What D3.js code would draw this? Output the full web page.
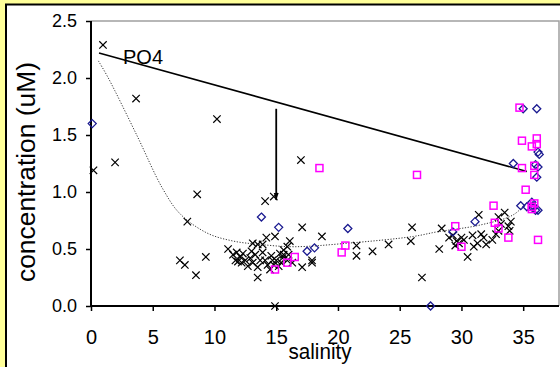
<!DOCTYPE html>
<html>
<head>
<meta charset="utf-8">
<script src="https://cdn.jsdelivr.net/npm/d3@7"></script>
<style>
  body { margin: 0; background: #ffff99; }
  svg { display: block; font-family: "Liberation Sans", Arial, sans-serif; }
</style>
</head>
<body>
<div id="chart"></div>
<script>
// salinity vs PO4 concentration, three sample groups
var crosses = [
  [0.97,2.29],[3.65,1.82],[10.2,1.64],[1.95,1.26],[0.2,1.19],[8.6,0.98],[7.8,0.74],[7.2,0.40],
  [7.6,0.36],[9.3,0.43],[8.5,0.27],[14.9,0.0],[14.1,0.92],[14.8,0.96],[17.0,1.28],
  [11.1,0.50],[11.8,0.47],[11.5,0.45],[12.1,0.43],[11.7,0.40],[11.9,0.39],[12.3,0.46],[12.2,0.38],
  [12.5,0.40],[12.9,0.42],[13.1,0.38],[13.5,0.34],[13.3,0.45],[13.7,0.40],[13.9,0.47],[13.5,0.54],
  [13.9,0.54],[13.5,0.25],[14.3,0.36],[14.5,0.32],[14.1,0.40],[14.7,0.40],[14.8,0.36],[14.9,0.61],
  [15.3,0.46],[15.5,0.42],[15.6,0.49],[15.9,0.52],[16.0,0.45],[15.6,0.45],[15.9,0.40],[16.3,0.38],
  [17.1,0.34],[17.9,0.40],[17.9,0.38],[16.1,0.57],[14.2,0.60],[13.1,0.55],[15.0,0.40],[15.2,0.35],
  [14.6,0.44],[15.4,0.38],[12.7,0.35],[13.0,0.48],
  [17.1,0.69],[18.7,0.61],[21.5,0.53],[21.5,0.44],[22.8,0.48],[24.1,0.54],[25.9,0.57],[26.0,0.69],
  [26.8,0.25],[28.2,0.50],[28.4,0.68],[29.0,0.60],[29.3,0.62],[29.6,0.57],[29.8,0.55],[30.0,0.60],
  [30.2,0.58],[29.5,0.53],[30.5,0.43],[30.9,0.62],[31.4,0.80],[31.0,0.52],[31.3,0.55],[31.6,0.63],
  [31.8,0.60],[32.0,0.54],[32.5,0.58],[32.8,0.63],[33.0,0.78],[33.2,0.72],[33.0,0.66],[33.5,0.82],
  [33.8,0.70],[33.9,0.66],[34.0,0.74]
];
var diamonds = [
  [0.1,1.60],[13.8,0.78],[15.2,0.69],[17.5,0.48],[18.1,0.51],[20.8,0.68],[27.5,0.0],[29.3,0.65],
  [31.1,0.74],[34.2,1.25],[34.8,0.88],[35.0,1.73],[35.3,0.87],[35.7,0.91],[35.8,0.88],[35.8,0.86],
  [36.0,1.24],[36.0,0.84],[36.1,1.73],[36.1,1.13],[36.2,0.84],[36.2,1.35],[36.3,1.33],[36.2,1.22]
];
var squares = [
  [14.9,0.32],[15.9,0.38],[16.5,0.43],[18.5,1.21],[20.3,0.47],[20.6,0.53],[26.4,1.15],[29.5,0.70],
  [30.0,0.52],[32.6,0.88],[32.7,0.73],[33.0,0.68],[33.8,0.60],[34.7,1.74],[34.9,1.45],[34.9,1.21],
  [35.2,1.02],[35.7,1.40],[35.9,1.23],[35.9,1.15],[36.1,1.47],[36.1,1.42],[36.2,0.58],[35.7,0.87],
  [35.7,0.85],[35.9,0.90]
];
var fitCurve = [
  [0.6,2.15],[1.4,2.0],[3.7,1.5],[5.8,1.03],[7.2,0.81],[9.4,0.64],[11.5,0.57],[13.7,0.54],
  [16.4,0.52],[20.7,0.55],[26.1,0.61],[28,0.65],[31.5,0.71],[34.2,0.80],[35.3,0.91]
];
var mixLine = [[0.65,2.22],[35.3,1.18]];
var arrowLine = [[15.0,1.73],[15.0,0.93]];
var xTicks = [0,5,10,15,20,25,30,35];
var yTicks = [0,0.5,1.0,1.5,2.0,2.5];

(function(){
  var width = 560, height = 367;
  var mLeft = 91, mRight = 559, mTop = 21, mBottom = 306;

  var svg = d3.select("#chart").append("svg")
    .attr("width", width)
    .attr("height", height);

  svg.append("rect").attr("width", width).attr("height", height).attr("fill", "#ffff99");
  svg.append("rect")
    .attr("x", 6).attr("y", 4.5).attr("width", width + 10).attr("height", height + 10)
    .attr("fill", "#fff").attr("stroke", "#000").attr("stroke-width", 2);

  var x = d3.scaleLinear().domain([0, 37.9]).range([mLeft, mRight]);
  var y = d3.scaleLinear().domain([0, 2.5]).range([mBottom, mTop]);

  // plot frame (top & right in gray)
  svg.append("path")
    .attr("d", "M" + mLeft + "," + mTop + "H" + mRight + "V" + mBottom)
    .attr("fill", "none").attr("stroke", "#a0a0a0").attr("stroke-width", 1.5);

  var xAxis = svg.append("g")
    .attr("transform", "translate(0," + mBottom + ")")
    .call(d3.axisBottom(x).tickValues(xTicks).tickSize(5).tickSizeOuter(0).tickPadding(19));
  xAxis.selectAll("text").attr("font-size", 20).attr("fill", "#000").attr("font-family", "Liberation Sans, Arial, sans-serif");

  var yAxis = svg.append("g")
    .attr("transform", "translate(" + mLeft + ",0)")
    .call(d3.axisLeft(y).tickValues(yTicks).tickFormat(d3.format(".1f")).tickSize(5).tickSizeOuter(0).tickPadding(9));
  yAxis.selectAll("text").attr("font-size", 18).attr("fill", "#000").attr("font-family", "Liberation Sans, Arial, sans-serif");

  [xAxis, yAxis].forEach(function(a){
    a.select(".domain").attr("stroke", "#000").attr("stroke-width", 2);
    a.selectAll(".tick line").attr("stroke", "#000").attr("stroke-width", 1.5);
  });
  xAxis.select(".domain").attr("d", "M" + mLeft + ",0H" + mRight);
  yAxis.select(".domain").attr("d", "M0," + mTop + "V" + mBottom);

  svg.append("text")
    .attr("x", 320).attr("y", 359)
    .attr("text-anchor", "middle").attr("font-size", 22)
    .attr("textLength", 63).attr("lengthAdjust", "spacingAndGlyphs")
    .text("salinity");

  svg.append("text")
    .attr("transform", "translate(35,172) rotate(-90)")
    .attr("text-anchor", "middle").attr("font-size", 25)
    .attr("textLength", 220).attr("lengthAdjust", "spacingAndGlyphs")
    .text("concentration (uM)");

  var line = d3.line().x(function(d){ return x(d[0]); }).y(function(d){ return y(d[1]); });

  svg.append("path")
    .datum(fitCurve)
    .attr("d", line.curve(d3.curveCatmullRom))
    .attr("fill", "none").attr("stroke", "#333").attr("stroke-width", 1)
    .attr("stroke-dasharray", "1.2,1.6");

  line.curve(d3.curveLinear);
  svg.append("path")
    .datum(mixLine)
    .attr("d", line)
    .attr("fill", "none").attr("stroke", "#000").attr("stroke-width", 1.6);

  svg.append("text")
    .attr("x", 123).attr("y", 64)
    .attr("font-size", 20)
    .text("PO4");

  // arrow
  svg.append("defs").append("marker")
    .attr("id", "head")
    .attr("viewBox", "0 0 10 10").attr("refX", 10).attr("refY", 5)
    .attr("markerWidth", 4).attr("markerHeight", 4).attr("orient", "auto")
    .append("path").attr("d", "M0,1.5L10,5L0,8.5Z").attr("fill", "#000");
  svg.append("path")
    .datum(arrowLine)
    .attr("d", line)
    .attr("stroke", "#000").attr("stroke-width", 1.8)
    .attr("marker-end", "url(#head)");

  var g = svg.append("g");

  g.selectAll(".cross").data(crosses).enter().append("path")
    .attr("class", "cross")
    .attr("transform", function(d){ return "translate(" + x(d[0]) + "," + y(d[1]) + ")"; })
    .attr("d", "M-3.7,-3.7L3.7,3.7M-3.7,3.7L3.7,-3.7")
    .attr("stroke", "#000").attr("stroke-width", 1.2).attr("fill", "none");

  g.selectAll(".diamond").data(diamonds).enter().append("path")
    .attr("class", "diamond")
    .attr("transform", function(d){ return "translate(" + x(d[0]) + "," + y(d[1]) + ")"; })
    .attr("d", "M0,-4L4,0L0,4L-4,0Z")
    .attr("stroke", "#1a1a90").attr("stroke-width", 1.3).attr("fill", "none");

  g.selectAll(".square").data(squares).enter().append("rect")
    .attr("class", "square")
    .attr("x", function(d){ return x(d[0]) - 3.5; })
    .attr("y", function(d){ return y(d[1]) - 3.5; })
    .attr("width", 7).attr("height", 7)
    .attr("stroke", "#ff00ff").attr("stroke-width", 1.5).attr("fill", "none");
})();
</script>
</body>
</html>
